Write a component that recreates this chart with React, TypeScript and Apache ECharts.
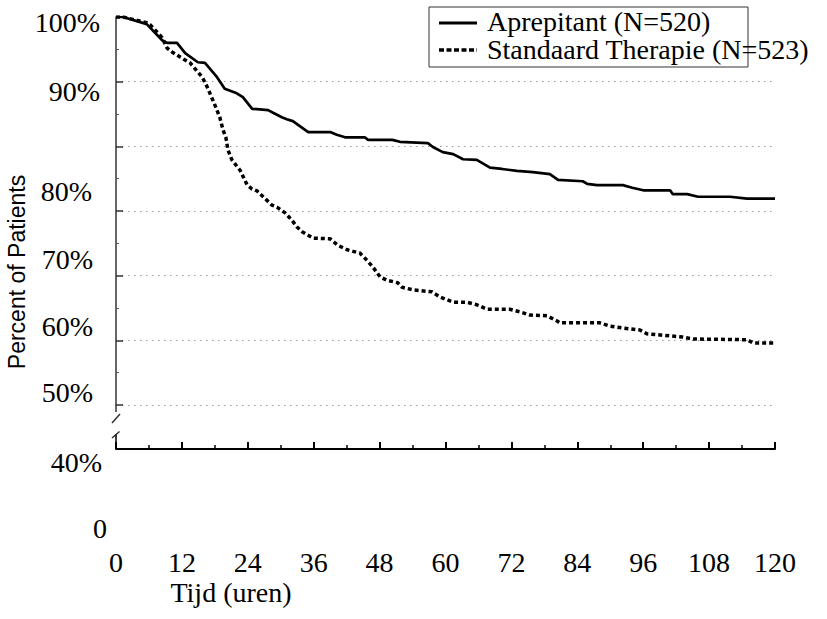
import React, { useEffect, useRef } from 'react';
import * as echarts from 'echarts';

// ---- Data ----
const aprepitantTime = [0, 1.3, 5.6, 8.4, 9.3, 11.1, 12.6, 14.9, 16.2, 18.4, 19.8, 22.0, 23.1, 24.8, 27.7, 28.6, 30.2, 31.1, 32.2, 35.0, 39.0, 40.2, 41.7, 45.3, 45.9, 50.3, 51.7, 56.8, 57.7, 59.5, 61.4, 63.2, 65.7, 68.1, 70.3, 73.0, 75.9, 79.0, 80.5, 85.0, 85.8, 87.6, 92.3, 94.0, 96.0, 100.9, 101.4, 104.0, 106.0, 111.8, 114.9, 120];
const aprepitantPct = [100, 100, 98.9, 96.4, 96.0, 96.0, 94.4, 93.0, 92.9, 90.7, 88.9, 88.2, 87.6, 85.8, 85.6, 85.2, 84.5, 84.2, 83.9, 82.2, 82.2, 81.8, 81.4, 81.4, 81.0, 81.0, 80.7, 80.5, 79.9, 79.1, 78.8, 78.0, 77.9, 76.7, 76.5, 76.2, 76.0, 75.7, 74.8, 74.6, 74.2, 74.0, 74.0, 73.6, 73.2, 73.2, 72.6, 72.6, 72.2, 72.2, 71.9, 71.9];

const standaardTime = [0, 1.3, 5.6, 6.2, 7.1, 8.4, 9.3, 10.2, 11.7, 13.5, 14.9, 15.7, 16.6, 18.0, 18.9, 19.5, 20.0, 20.4, 21.1, 22.6, 23.9, 24.8, 25.7, 26.8, 28.4, 29.3, 30.8, 32.0, 33.0, 33.9, 35.9, 39.0, 40.4, 42.1, 44.4, 45.7, 46.8, 48.1, 49.3, 51.3, 52.1, 54.1, 57.5, 59.0, 61.4, 63.9, 65.7, 67.6, 71.7, 73.6, 75.4, 78.5, 80.3, 80.8, 88.1, 89.9, 92.3, 95.4, 96.7, 100.9, 103.2, 105.1, 114.9, 116.0, 120];
const standaardPct = [100, 100, 99.1, 98.8, 98.0, 96.8, 95.2, 94.6, 93.8, 92.9, 91.5, 90.7, 89.2, 86.4, 84.5, 82.5, 81.4, 79.4, 77.9, 76.3, 74.0, 73.4, 73.1, 72.2, 70.9, 70.6, 69.7, 68.6, 67.5, 66.8, 65.8, 65.7, 64.7, 64.0, 63.5, 62.4, 61.3, 59.8, 59.3, 58.9, 58.2, 57.8, 57.5, 56.7, 55.9, 55.9, 55.5, 54.8, 54.8, 54.4, 53.9, 53.8, 53.0, 52.7, 52.7, 52.2, 51.9, 51.6, 51.0, 50.7, 50.5, 50.2, 50.1, 49.6, 49.6];

const seriesNames = ['Aprepitant (N=520)', 'Standaard Therapie (N=523)'];
const yTickLabels = ['100%', '90%', '80%', '70%', '60%', '50%', '40%', '0'];
const xAxisTitle = 'Tijd (uren)';
const yAxisTitle = 'Percent of Patients';

// ---- Layout (not data) ----
const yLabelPos = [
  [100, 22.5], [100, 91.5], [92, 191], [93, 259], [93, 326], [93, 392], [102, 462], [107, 528.5],
];

const SERIF = '"Liberation Serif", "Times New Roman", serif';
const SANS = '"Liberation Sans", Arial, sans-serif';

function zip(a: number[], b: number[]) {
  return a.map((t, i) => [t, b[i]]);
}

export default function App() {
  const ref = useRef<HTMLDivElement>(null);
  useEffect(() => {
    document.body.style.margin = '0';
    const chart = echarts.init(ref.current!, undefined, { renderer: 'svg' });
    const graphics: any[] = [];
    yTickLabels.forEach((t, i) => {
      graphics.push({
        type: 'text', x: yLabelPos[i][0], y: yLabelPos[i][1],
        style: { text: t, fontSize: 28, fontFamily: SERIF, fill: '#000', textAlign: 'right', textVerticalAlign: 'middle' },
      });
    });
    graphics.push(
      {
        type: 'text', x: 17, y: 272, rotation: Math.PI / 2,
        style: { text: yAxisTitle, fontSize: 23, fontFamily: SANS, fill: '#000', textAlign: 'center', textVerticalAlign: 'middle' },
      },
      {
        type: 'text', x: 231, y: 592,
        style: { text: xAxisTitle, fontSize: 28, fontFamily: SERIF, fill: '#000', textAlign: 'center', textVerticalAlign: 'middle' },
      },
      // axis break
      { type: 'line', shape: { x1: 116, y1: 405, x2: 116, y2: 412 }, style: { stroke: '#333', lineWidth: 1.5 } },
      { type: 'line', shape: { x1: 112, y1: 423, x2: 120, y2: 414 }, style: { stroke: '#333', lineWidth: 1.5 } },
      { type: 'line', shape: { x1: 112, y1: 438, x2: 119.5, y2: 431.5 }, style: { stroke: '#333', lineWidth: 1.5 } },
      { type: 'line', shape: { x1: 116, y1: 434.5, x2: 116, y2: 449 }, style: { stroke: '#000', lineWidth: 1.5 } },
      // legend
      { type: 'rect', shape: { x: 429, y: 7, width: 319, height: 60 }, style: { fill: 'rgba(0,0,0,0)', stroke: '#333', lineWidth: 1 } },
      { type: 'line', shape: { x1: 439, y1: 23, x2: 477, y2: 23 }, style: { stroke: '#000', lineWidth: 3 } },
      { type: 'line', shape: { x1: 439, y1: 50, x2: 477, y2: 50 }, style: { stroke: '#000', lineWidth: 3.5, lineDash: [5, 2.5] } },
      {
        type: 'text', x: 487, y: 21,
        style: { text: seriesNames[0], fontSize: 28, fontFamily: SERIF, fill: '#000', textAlign: 'left', textVerticalAlign: 'middle' },
      },
      {
        type: 'text', x: 487, y: 49,
        style: { text: seriesNames[1], fontSize: 28, fontFamily: SERIF, fill: '#000', textAlign: 'left', textVerticalAlign: 'middle' },
      },
    );

    chart.setOption({
      animation: false,
      backgroundColor: '#fff',
      grid: { left: 116, right: 52, top: 17, bottom: 214 },
      xAxis: {
        type: 'value', min: 0, max: 120, interval: 12, offset: 44,
        axisLine: { show: true, lineStyle: { color: '#000', width: 2 } },
        axisTick: { show: true, inside: true, length: 7, lineStyle: { color: '#000', width: 2 } },
        minorTick: { show: true, splitNumber: 2, length: 4, lineStyle: { color: '#000', width: 1.5 } },
        splitLine: { show: false },
        axisLabel: { margin: 99, fontSize: 28, color: '#000', fontFamily: SERIF, showMinLabel: true, showMaxLabel: true },
      },
      yAxis: {
        type: 'value', min: 40, max: 100, interval: 10,
        axisLine: { show: true, lineStyle: { color: '#333', width: 1.5 } },
        axisTick: { show: true, inside: true, length: 7, lineStyle: { color: '#333', width: 1.5 } },
        minorTick: { show: true, splitNumber: 2, length: 3, lineStyle: { color: '#555', width: 1 } },
        splitLine: { show: true, showMaxLine: false, lineStyle: { color: '#999', width: 1, type: [1.5, 4.5] } },
        axisLabel: { show: false },
      },
      series: [
        {
          name: seriesNames[0], type: 'line', data: zip(aprepitantTime, aprepitantPct), symbol: 'none',
          lineStyle: { color: '#000', width: 2.7, type: 'solid' },
        },
        {
          name: seriesNames[1], type: 'line', data: zip(standaardTime, standaardPct), symbol: 'none',
          lineStyle: { color: '#000', width: 3.5, type: [4, 3] },
        },
      ],
      graphic: graphics,
    });
    return () => chart.dispose();
  }, []);
  return <div ref={ref} style={{ width: 827, height: 619 }} />;
}
